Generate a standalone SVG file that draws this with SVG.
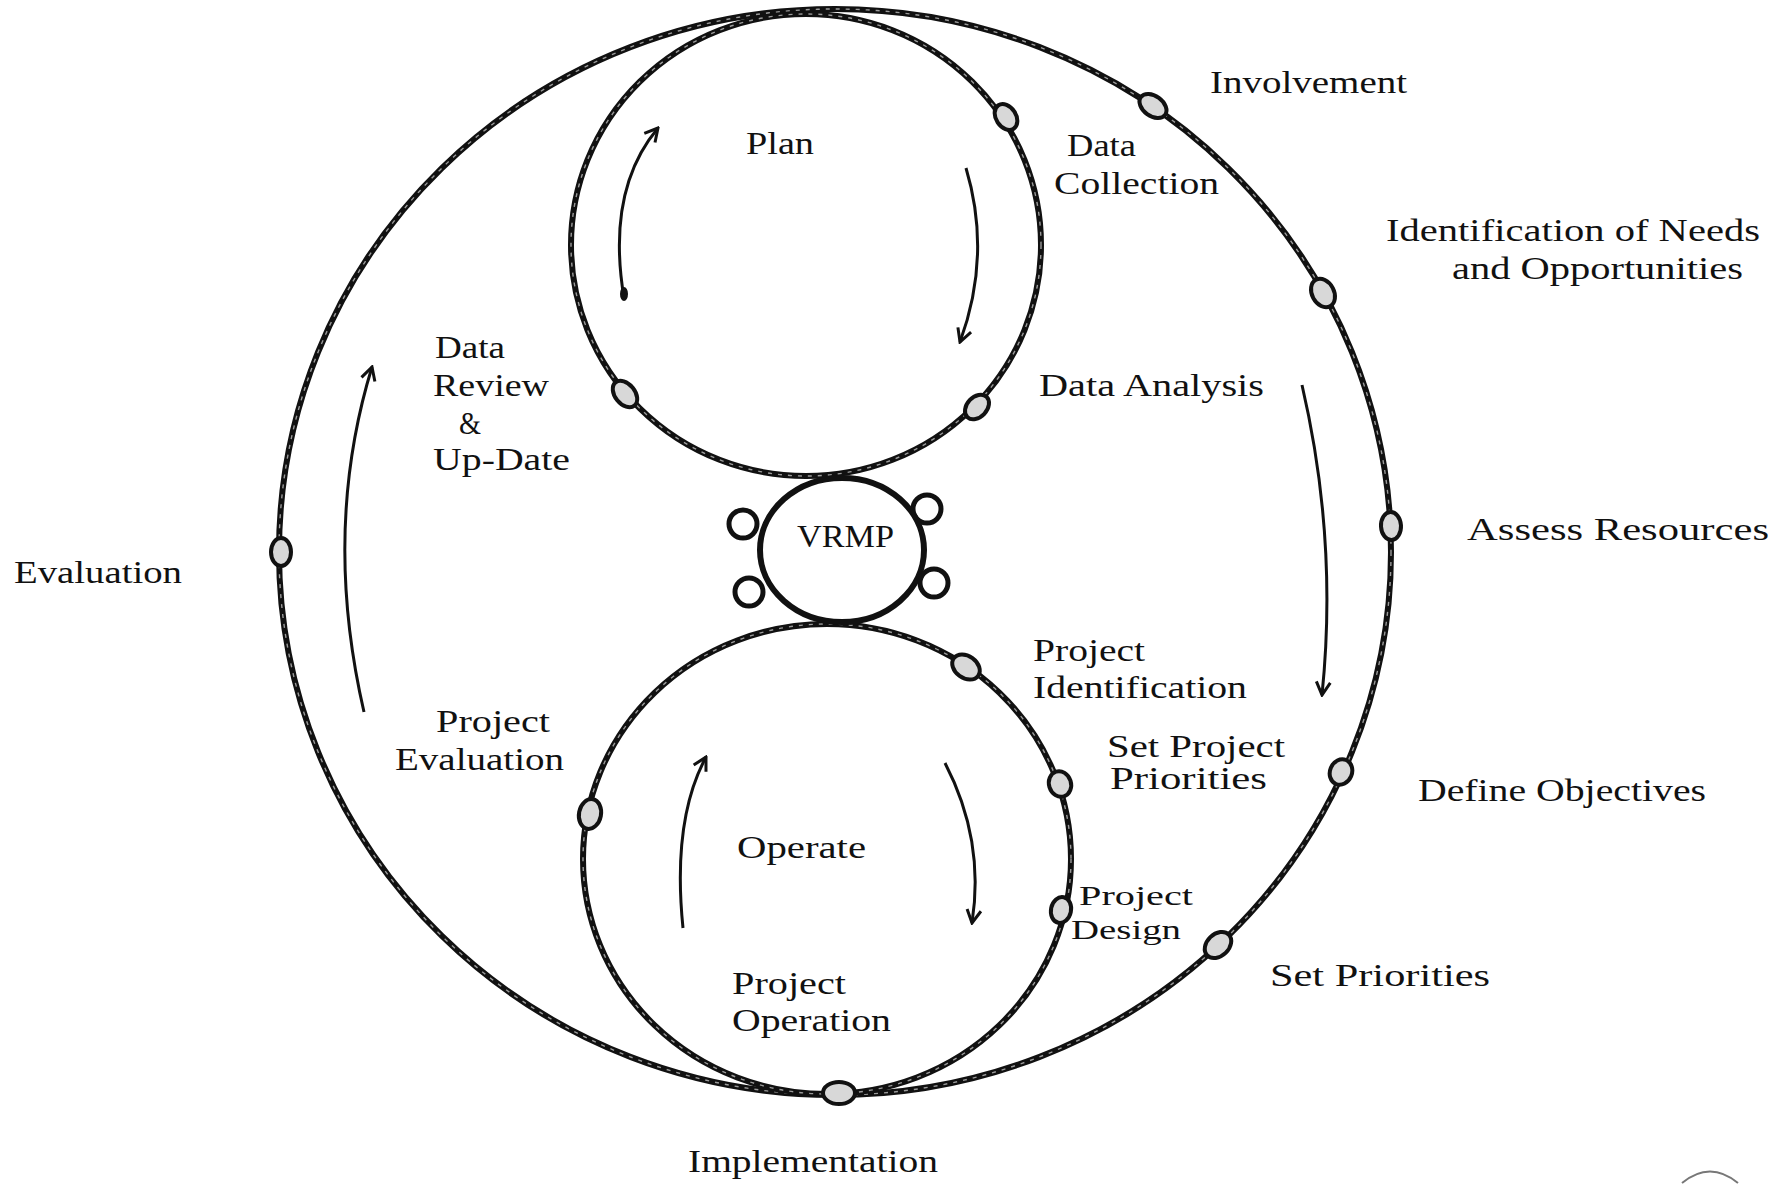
<svg xmlns="http://www.w3.org/2000/svg" width="1786" height="1185" viewBox="0 0 1786 1185">
<style>
  .ring{fill:none;stroke:#111;stroke-width:6}
  .tex{fill:none;stroke:#9a9a9a;stroke-width:1.4;stroke-dasharray:4 6}
  .loop{fill:none;stroke:#111;stroke-width:5}
  .blob{fill:#d8d8d8;stroke:#111;stroke-width:4}
  .arrow{fill:none;stroke:#111;stroke-width:3;marker-end:url(#head)}
  .lbl{font-family:"Liberation Serif","Times New Roman",serif;font-size:31px;fill:#111}
  .sm{font-size:28px}
  .cen{font-family:"Liberation Serif","Times New Roman",serif;font-size:31px;fill:#111}
</style>
<defs>
  <marker id="head" viewBox="-14 -9 16 18" refX="0" refY="0" markerWidth="16" markerHeight="18" markerUnits="userSpaceOnUse" orient="auto">
    <path d="M-13,-7 L0,0 L-13,7" fill="none" stroke="#111" stroke-width="3"/>
  </marker>
</defs>
<rect width="1786" height="1185" fill="#fff"/>

<g id="outer-cycle">
  <ellipse class="ring" cx="835" cy="552" rx="556" ry="543"/>
  <ellipse class="tex" cx="835" cy="552" rx="556" ry="543"/>
</g>
<g id="plan-cycle">
  <ellipse class="ring" cx="806" cy="245" rx="235" ry="231"/>
  <ellipse class="tex" cx="806" cy="245" rx="235" ry="231"/>
  <text class="cen" x="746" y="154" textLength="68" lengthAdjust="spacingAndGlyphs">Plan</text>
</g>
<g id="operate-cycle">
  <ellipse class="ring" cx="827" cy="859" rx="244" ry="235"/>
  <ellipse class="tex" cx="827" cy="859" rx="244" ry="235"/>
  <text class="cen" x="737" y="858" textLength="129" lengthAdjust="spacingAndGlyphs">Operate</text>
</g>
<g id="vrmp">
  <ellipse class="ring" cx="842" cy="550" rx="82" ry="72"/>
  <circle class="loop" cx="743" cy="524" r="14"/>
  <circle class="loop" cx="927" cy="509" r="14"/>
  <circle class="loop" cx="749" cy="592" r="14"/>
  <circle class="loop" cx="934" cy="583" r="14"/>
  <text class="cen" x="797" y="547" textLength="97" lengthAdjust="spacingAndGlyphs">VRMP</text>
</g>

<g id="connectors">
  <path class="arrow" d="M624,298 Q606,190 658,128"/>
  <ellipse cx="624" cy="294" rx="4" ry="7" fill="#111"/>
  <path class="arrow" d="M966,168 Q992,255 960,342"/>
  <path class="arrow" d="M1302,385 Q1338,540 1322,695"/>
  <path class="arrow" d="M364,712 Q322,530 372,367"/>
  <path class="arrow" d="M683,928 Q672,820 706,757"/>
  <path class="arrow" d="M945,763 Q985,840 972,923"/>
</g>

<g id="node-involvement">
  <ellipse class="blob" cx="1153" cy="106" rx="15" ry="10" transform="rotate(36 1153 106)"/>
  <text class="lbl" x="1210" y="93" textLength="197" lengthAdjust="spacingAndGlyphs">Involvement</text>
</g>
<g id="node-identification">
  <ellipse class="blob" cx="1323" cy="293" rx="15" ry="11" transform="rotate(62 1323 293)"/>
  <text class="lbl" x="1386" y="241" textLength="374" lengthAdjust="spacingAndGlyphs">Identification of  Needs</text>
  <text class="lbl" x="1452" y="279" textLength="291" lengthAdjust="spacingAndGlyphs">and Opportunities</text>
</g>
<g id="node-assess">
  <ellipse class="blob" cx="1391" cy="526" rx="14" ry="10" transform="rotate(87 1391 526)"/>
  <text class="lbl" x="1467" y="540" textLength="302" lengthAdjust="spacingAndGlyphs">Assess Resources</text>
</g>
<g id="node-objectives">
  <ellipse class="blob" cx="1341" cy="772" rx="13" ry="11" transform="rotate(113 1341 772)"/>
  <text class="lbl" x="1418" y="801" textLength="288" lengthAdjust="spacingAndGlyphs">Define Objectives</text>
</g>
<g id="node-set-priorities">
  <ellipse class="blob" cx="1218" cy="945" rx="15" ry="11" transform="rotate(136 1218 945)"/>
  <text class="lbl" x="1270" y="986" textLength="220" lengthAdjust="spacingAndGlyphs">Set Priorities</text>
</g>
<g id="node-implementation">
  <ellipse class="blob" cx="839" cy="1093" rx="16" ry="11"/>
  <text class="lbl" x="688" y="1172" textLength="250" lengthAdjust="spacingAndGlyphs">Implementation</text>
</g>
<g id="node-evaluation">
  <ellipse class="blob" cx="281" cy="552" rx="14" ry="10" transform="rotate(90 281 552)"/>
  <text class="lbl" x="14" y="583" textLength="168" lengthAdjust="spacingAndGlyphs">Evaluation</text>
</g>

<g id="node-data-collection">
  <ellipse class="blob" cx="1006" cy="117" rx="14" ry="10" transform="rotate(57 1006 117)"/>
  <text class="lbl" x="1067" y="156" textLength="69" lengthAdjust="spacingAndGlyphs">Data</text>
  <text class="lbl" x="1054" y="194" textLength="165" lengthAdjust="spacingAndGlyphs">Collection</text>
</g>
<g id="node-data-analysis">
  <ellipse class="blob" cx="977" cy="407" rx="14" ry="10" transform="rotate(133 977 407)"/>
  <text class="lbl" x="1039" y="396" textLength="225" lengthAdjust="spacingAndGlyphs">Data Analysis</text>
</g>
<g id="node-data-review">
  <ellipse class="blob" cx="625" cy="394" rx="15" ry="10" transform="rotate(51 625 394)"/>
  <text class="lbl" x="435" y="358" textLength="70" lengthAdjust="spacingAndGlyphs">Data</text>
  <text class="lbl" x="433" y="396" textLength="116" lengthAdjust="spacingAndGlyphs">Review</text>
  <text class="lbl" x="459" y="434" textLength="22" lengthAdjust="spacingAndGlyphs">&amp;</text>
  <text class="lbl" x="433" y="470" textLength="137" lengthAdjust="spacingAndGlyphs">Up-Date</text>
</g>

<g id="node-project-identification">
  <ellipse class="blob" cx="966" cy="667" rx="15" ry="11" transform="rotate(36 966 667)"/>
  <text class="lbl" x="1033" y="661" textLength="112" lengthAdjust="spacingAndGlyphs">Project</text>
  <text class="lbl" x="1033" y="698" textLength="214" lengthAdjust="spacingAndGlyphs">Identification</text>
</g>
<g id="node-set-project-priorities">
  <ellipse class="blob" cx="1060" cy="784" rx="13" ry="11" transform="rotate(72 1060 784)"/>
  <text class="lbl" x="1107" y="757" textLength="178" lengthAdjust="spacingAndGlyphs">Set Project</text>
  <text class="lbl" x="1110" y="789" textLength="157" lengthAdjust="spacingAndGlyphs">Priorities</text>
</g>
<g id="node-project-design">
  <ellipse class="blob" cx="1061" cy="910" rx="13" ry="10" transform="rotate(102 1061 910)"/>
  <text class="lbl sm" x="1079" y="905" textLength="114" lengthAdjust="spacingAndGlyphs">Project</text>
  <text class="lbl sm" x="1071" y="939" textLength="110" lengthAdjust="spacingAndGlyphs">Design</text>
</g>
<g id="node-project-evaluation">
  <ellipse class="blob" cx="590" cy="814" rx="15" ry="11" transform="rotate(101 590 814)"/>
  <text class="lbl" x="436" y="732" textLength="114" lengthAdjust="spacingAndGlyphs">Project</text>
  <text class="lbl" x="395" y="770" textLength="169" lengthAdjust="spacingAndGlyphs">Evaluation</text>
</g>
<g id="node-project-operation">
  <text class="lbl" x="732" y="994" textLength="114" lengthAdjust="spacingAndGlyphs">Project</text>
  <text class="lbl" x="732" y="1031" textLength="159" lengthAdjust="spacingAndGlyphs">Operation</text>
</g>

<path d="M1682,1183 Q1710,1160 1738,1183" fill="none" stroke="#777" stroke-width="2"/>
</svg>
